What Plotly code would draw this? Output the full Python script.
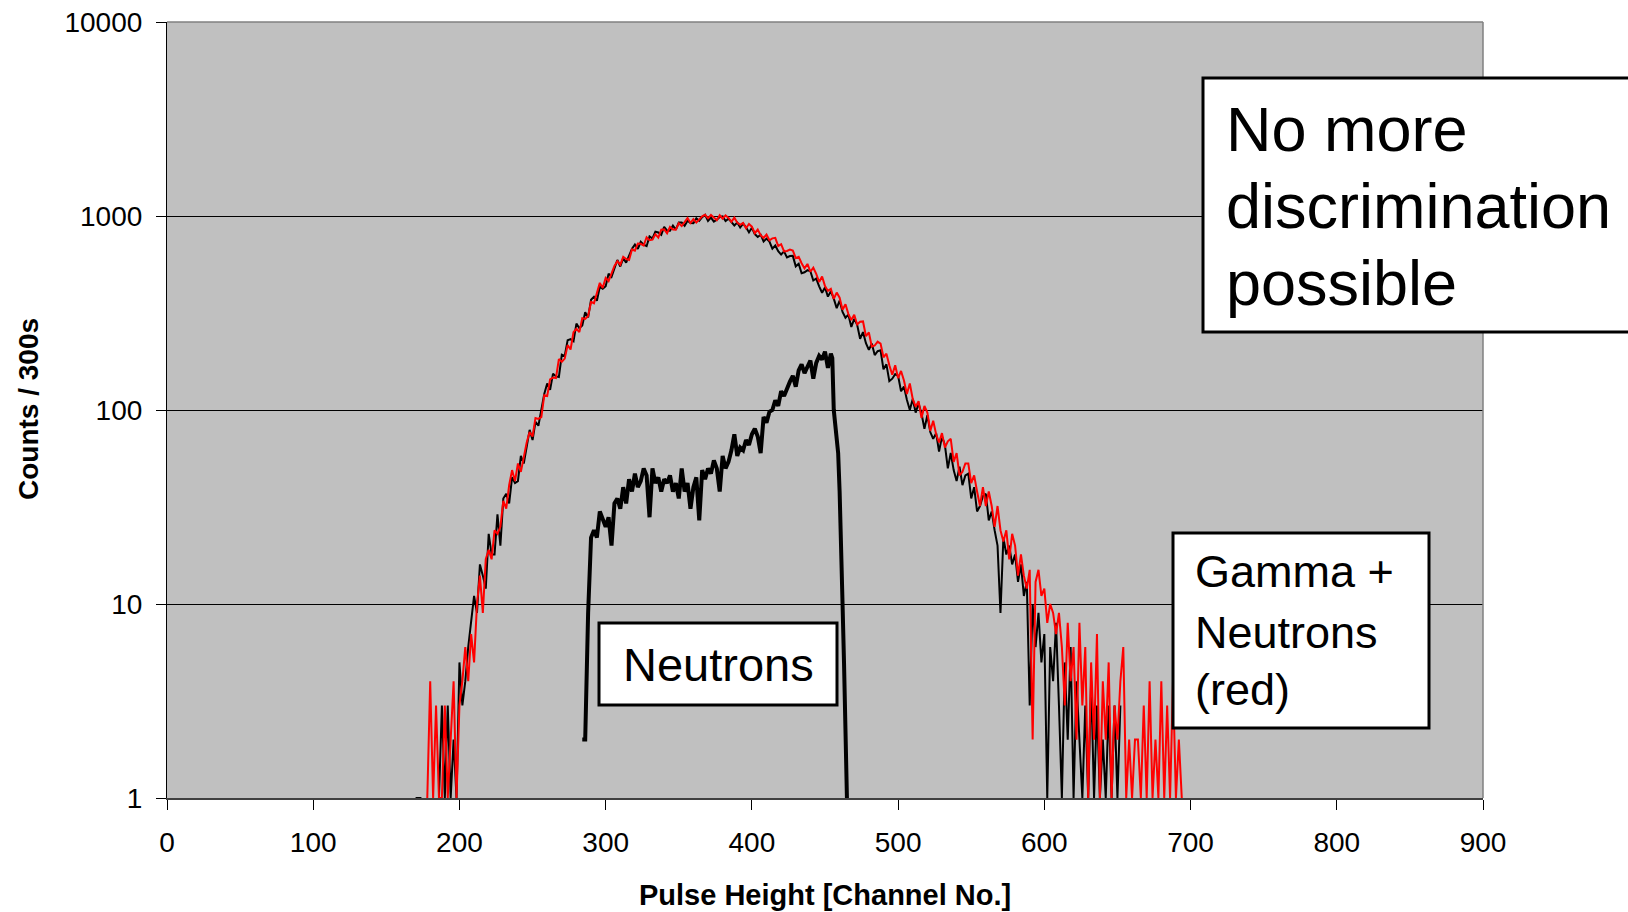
import plotly.graph_objects as go

FONT = "Liberation Sans, Arial, sans-serif"

# ---------------- data ----------------
# Gamma + Neutrons (red), channels 178..694, step 2
red_first_channel = 178
red_counts = [
    1, 4, 1, 3, 1, 1, 3, 1, 2, 4,
    1, 3, 4, 6, 4, 7, 5, 10, 14, 9,
    17, 19, 17, 24, 23, 25, 34, 31, 41, 49,
    43, 53, 48, 57, 68, 77, 73, 91, 90, 92,
    119, 118, 144, 147, 146, 183, 177, 184, 216, 205,
    252, 262, 252, 297, 295, 305, 361, 355, 406, 452,
    426, 479, 462, 502, 553, 585, 561, 616, 600, 594,
    672, 662, 721, 719, 704, 777, 751, 755, 806, 774,
    850, 853, 815, 879, 853, 851, 917, 887, 938, 976,
    920, 963, 925, 955, 997, 1015, 973, 1012, 978, 952,
    1009, 968, 1008, 977, 933, 980, 924, 900, 921, 865,
    909, 881, 815, 851, 797, 770, 802, 750, 767, 772,
    700, 716, 657, 660, 672, 663, 607, 616, 571, 537,
    566, 516, 541, 503, 457, 488, 435, 411, 421, 374,
    403, 379, 329, 351, 312, 291, 310, 276, 285, 286,
    240, 251, 212, 215, 225, 220, 187, 195, 170, 152,
    170, 146, 159, 142, 121, 137, 114, 104, 111, 91,
    105, 97, 78, 88, 75, 68, 76, 64, 69, 71,
    54, 60, 46, 48, 53, 53, 42, 46, 38, 32,
    40, 32, 38, 32, 25, 32, 24, 21, 24, 17,
    23, 20, 14, 18, 14, 12, 15, 2, 13, 15,
    11, 12, 8, 10, 9, 7, 9, 6, 3, 8,
    4, 6, 2, 8, 3, 6, 1, 5, 2, 7,
    1, 4, 2, 5, 1, 3, 2, 4, 6, 1,
    2, 1, 2, 2, 1, 3, 1, 4, 1, 2,
    1, 4, 1, 3, 1, 4, 1, 2, 1,
]

# Gamma measurement (thin black), channels 170..652, step 2 (None = no counts)
black_first_channel = 170
black_counts = [
    1, 1, 1, None, None, None, None, None, 1, 3,
    1, 3, 1, 2, 1, 5, 3, 4, 6, 8,
    11, 9, 16, 14, 12, 23, 18, 18, 29, 20,
    35, 37, 33, 45, 42, 43, 58, 53, 66, 79,
    70, 87, 83, 100, 121, 137, 127, 154, 149, 148,
    193, 190, 229, 232, 226, 279, 264, 273, 319, 300,
    370, 383, 366, 431, 422, 435, 504, 486, 545, 593,
    549, 604, 575, 619, 678, 712, 676, 736, 711, 699,
    785, 766, 830, 822, 800, 878, 840, 840, 892, 851,
    925, 925, 891, 945, 920, 918, 972, 944, 986, 1015,
    942, 980, 935, 956, 988, 995, 942, 969, 926, 894,
    925, 872, 913, 874, 823, 870, 807, 780, 801, 739,
    765, 738, 679, 705, 659, 633, 657, 611, 622, 623,
    550, 567, 507, 513, 526, 519, 465, 476, 434, 402,
    428, 384, 409, 375, 335, 366, 320, 299, 310, 268,
    295, 275, 233, 252, 221, 204, 220, 192, 201, 203,
    162, 172, 141, 145, 153, 150, 125, 132, 113, 100,
    114, 97, 108, 96, 80, 94, 77, 71, 76, 61,
    73, 66, 50, 60, 49, 43, 51, 41, 46, 47,
    35, 40, 30, 32, 36, 37, 27, 30, 24, 20,
    9, 22, 18, 20, 16, 18, 13, 16, 11, 13,
    3, 10, 6, 9, 5, 7, 1, 6, 4, 8,
    3, 1, 5, 2, 6, 1, 4, 2, 1, 3,
    1, 4, 1, 3, 1, 2, 1, 3, 1, 3,
    1, 3,
]

# Neutrons (thick black)
neutron_channels = list(range(284, 456, 2)) + [455, 456, 457, 458, 459, 460, 461, 462, 463, 464, 465]
neutron_counts = [
    2, 2, 9, 22, 24, 22, 30, 27, 25, 28,
    20, 33, 35, 31, 40, 33, 44, 38, 47, 40,
    43, 50, 46, 28, 50, 42, 45, 38, 44, 42,
    46, 38, 42, 35, 50, 38, 42, 31, 40, 45,
    27, 49, 44, 50, 47, 55, 50, 38, 58, 50,
    54, 62, 75, 58, 64, 62, 70, 66, 75, 80,
    73, 60, 92, 86, 98, 100, 112, 105, 125, 118,
    130, 140, 150, 132, 160, 172, 155, 165, 180, 145,
    175, 190, 182, 200, 165, 195,
    185, 100, 85, 72, 60, 38, 22, 10, 5, 2, 1,
]

x_ticks = [0, 100, 200, 300, 400, 500, 600, 700, 800, 900]
y_ticks = [1, 10, 100, 1000, 10000]
y_tick_text = ["1", "10", "100", "1000", "10000"]

red_channels = [red_first_channel + 2 * i for i in range(len(red_counts))]
black_channels = [black_first_channel + 2 * i for i in range(len(black_counts))]

# ---------------- figure ----------------
fig = go.Figure()
fig.add_trace(go.Scatter(x=black_channels, y=black_counts, mode="lines",
                         line=dict(color="#000000", width=2), connectgaps=False,
                         name="Gamma"))
fig.add_trace(go.Scatter(x=red_channels, y=red_counts, mode="lines",
                         line=dict(color="#FF0000", width=2), name="Gamma + Neutrons"))
fig.add_trace(go.Scatter(x=neutron_channels, y=neutron_counts, mode="lines",
                         line=dict(color="#000000", width=4), name="Neutrons"))

L, R, T, B = 167, 145, 22, 114
W, H = 1628, 912
PW, PH = W - L - R, H - T - B


def px(xp):
    return (xp - L) / PW


def py(yp):
    return (H - B - yp) / PH


fig.update_layout(
    width=W, height=H,
    margin=dict(l=L, r=R, t=T, b=B, pad=0, autoexpand=False),
    paper_bgcolor="white",
    plot_bgcolor="#C0C0C0",
    showlegend=False,
    font=dict(family=FONT, color="black"),
    xaxis=dict(
        range=[0, 900], tickvals=x_ticks, ticks="outside", ticklen=10,
        tickcolor="black", tickwidth=1, showgrid=False, zeroline=False,
        showline=True, linecolor="#404040", linewidth=1.5, automargin=False,
        tickfont=dict(size=28, family=FONT, color="black"),
        ticklabelstandoff=9,
    ),
    yaxis=dict(
        type="log", range=[0, 4], tickvals=y_ticks, ticktext=y_tick_text,
        ticks="outside", ticklen=10, tickcolor="black", tickwidth=1,
        showgrid=True, gridcolor="black", gridwidth=1, zeroline=False,
        showline=True, linecolor="black", linewidth=1.2, automargin=False,
        tickfont=dict(size=28, family=FONT, color="black"),
        ticklabelstandoff=8,
    ),
)

shapes = [
    # plot-area border (top/right grey)
    dict(type="line", xref="paper", yref="paper", x0=0, x1=1, y0=1, y1=1,
         line=dict(color="#808080", width=1.5), layer="above"),
    dict(type="line", xref="paper", yref="paper", x0=1, x1=1, y0=0, y1=1,
         line=dict(color="#808080", width=1.5), layer="above"),
    # annotation boxes
    dict(type="rect", xref="paper", yref="paper",
         x0=px(1203), x1=px(1660), y0=py(332), y1=py(78),
         line=dict(color="black", width=3), fillcolor="white", layer="above"),
    dict(type="rect", xref="paper", yref="paper",
         x0=px(599), x1=px(837), y0=py(705), y1=py(623),
         line=dict(color="black", width=3), fillcolor="white", layer="above"),
    dict(type="rect", xref="paper", yref="paper",
         x0=px(1173), x1=px(1429), y0=py(728), y1=py(533),
         line=dict(color="black", width=3), fillcolor="white", layer="above"),
]
fig.update_layout(shapes=shapes)


def text(s, xp, yp, size, xanchor="left", bold=False, angle=0):
    fig.add_annotation(
        text=f"<b>{s}</b>" if bold else s,
        xref="paper", yref="paper", x=px(xp), y=py(yp),
        xanchor=xanchor, yanchor="middle", showarrow=False,
        textangle=angle, borderpad=0, borderwidth=0,
        font=dict(family=FONT, size=size, color="black"),
    )


# box texts
text("No more", 1226, 129, 63)
text("discrimination", 1226, 205.5, 63)
text("possible", 1226, 282.5, 63)
text("Neutrons", 718.5, 664, 47, xanchor="center")
text("Gamma +", 1195, 571.5, 45)
text("Neutrons", 1195, 632.5, 45)
text("(red)", 1195, 689, 45)

# axis titles
text("Pulse Height [Channel No.]", 825, 895, 29, xanchor="center", bold=True)
text("Counts / 300s", 28, 409, 28, xanchor="center", bold=True, angle=-90)

fig.write_html("out.html")
